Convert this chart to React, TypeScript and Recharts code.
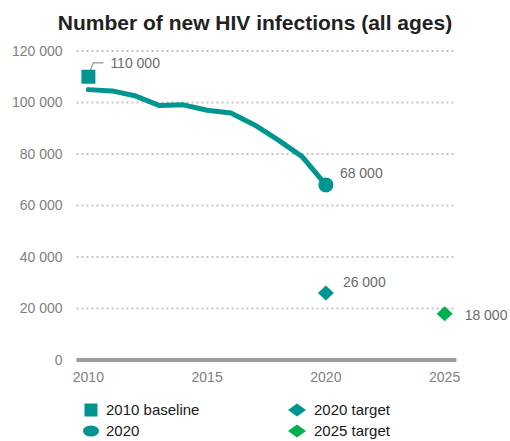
import React from "react";
import {
  ComposedChart,
  Line,
  Scatter,
  XAxis,
  YAxis,
  CartesianGrid,
} from "recharts";

const years = [2010, 2011, 2012, 2013, 2014, 2015, 2016, 2017, 2018, 2019, 2020];
const newInfections = [
  105000, 104500, 102500, 98800, 99100, 97000, 95900, 91300, 85400, 79000, 68000,
];

const markerNames = ["2010 baseline", "2020", "2020 target", "2025 target"];
const markerYears = [2010, 2020, 2020, 2025];
const markerValues = [110000, 68000, 26000, 18000];

const xTicks = [2010, 2015, 2020, 2025];
const yTicks = [0, 20000, 40000, 60000, 80000, 100000, 120000];

const TEAL = "#00968f";
const GREEN = "#00b050";
const FONT = "'Liberation Sans', Arial, sans-serif";

// marker look + where its value label sits
const markerStyle = [
  { shape: "square", color: TEAL, dx: 22, dy: -14, leader: true },
  { shape: "circle", color: TEAL, dx: 14, dy: -12, leader: false },
  { shape: "diamond", color: TEAL, dx: 17, dy: -11, leader: false },
  { shape: "diamond", color: GREEN, dx: 20, dy: 1, leader: false },
];

const fmt = (v: number) => String(v).replace(/\B(?=(\d{3})+(?!\d))/g, " ");

const lineData = years.map((year, i) => ({ year, value: newInfections[i] }));

function Marker({ shape, color, cx, cy }: any) {
  if (shape === "square") {
    return <rect x={cx - 7} y={cy - 7} width={14} height={14} fill={color} />;
  }
  if (shape === "circle") {
    return <circle cx={cx} cy={cy} r={7.5} fill={color} />;
  }
  return (
    <polygon
      points={`${cx},${cy - 7.5} ${cx + 8},${cy} ${cx},${cy + 7.5} ${cx - 8},${cy}`}
      fill={color}
    />
  );
}

function makeShape(i: number) {
  const st = markerStyle[i];
  return (props: any) => {
    const { cx, cy } = props;
    return (
      <g>
        {st.leader && (
          <polyline
            points={`${cx},${cy - 2} ${cx + 5},${cy - 14} ${cx + 15},${cy - 14}`}
            fill="none"
            stroke="#a6a6a6"
            strokeWidth={1.5}
          />
        )}
        <Marker shape={st.shape} color={st.color} cx={cx} cy={cy} />
        <text
          x={cx + st.dx}
          y={cy + st.dy}
          dominantBaseline="central"
          fontSize={14}
          fontFamily={FONT}
          fill="#6b6b6b"
        >
          {fmt(markerValues[i])}
        </text>
      </g>
    );
  };
}

const legendPos = [
  { x: 91, y: 410, tx: 106 },
  { x: 91, y: 431, tx: 106 },
  { x: 297, y: 410, tx: 314 },
  { x: 297, y: 431, tx: 314 },
];

function LegendIcon({ shape, color }: any) {
  return (
    <svg width={20} height={16} style={{ display: "block" }}>
      {shape === "square" && <rect x={3.5} y={1.5} width={13} height={13} fill={color} />}
      {shape === "circle" && <ellipse cx={10} cy={8} rx={8} ry={5.5} fill={color} />}
      {shape === "diamond" && (
        <polygon points="10,1.5 19,8 10,14.5 1,8" fill={color} />
      )}
    </svg>
  );
}

export default function App() {
  return (
    <div
      style={{
        position: "absolute",
        left: 0,
        top: 0,
        width: 510,
        height: 441,
        background: "#fff",
        fontFamily: FONT,
      }}
    >
      <div
        style={{
          position: "absolute",
          top: 9,
          left: 0,
          width: 510,
          textAlign: "center",
          fontSize: 21,
          fontWeight: "bold",
          lineHeight: "28px",
          color: "#222",
        }}
      >
        Number of new HIV infections (all ages)
      </div>

      <div style={{ position: "absolute", top: 0, left: 0 }}>
        <ComposedChart
          width={510}
          height={400}
          margin={{ top: 51, right: 53.5, bottom: 0, left: 0 }}
        >
          <CartesianGrid
            vertical={false}
            stroke="#c4c4c4"
            strokeWidth={2}
            strokeDasharray="2 3"
          />
          <XAxis
            dataKey="year"
            type="number"
            domain={[2009.5, 2025.5]}
            ticks={xTicks}
            height={40}
            tickSize={0}
            tickMargin={12}
            axisLine={{ stroke: "#9d9d9d", strokeWidth: 4 }}
            tick={{ fill: "#808080", fontSize: 14, fontFamily: FONT }}
          />
          <YAxis
            type="number"
            domain={[0, 120000]}
            ticks={yTicks}
            width={76.5}
            tickSize={0}
            tickMargin={14}
            axisLine={false}
            tickFormatter={fmt}
            tick={{ fill: "#808080", fontSize: 14, fontFamily: FONT }}
          />
          <Line
            data={lineData}
            dataKey="value"
            stroke={TEAL}
            strokeWidth={5}
            dot={false}
            strokeLinejoin="round"
            strokeLinecap="round"
            isAnimationActive={false}
          />
          {markerNames.map((name, i) => (
            <Scatter
              key={name}
              name={name}
              data={[{ year: markerYears[i], value: markerValues[i] }]}
              dataKey="value"
              shape={makeShape(i)}
              isAnimationActive={false}
            />
          ))}
        </ComposedChart>
      </div>

      {markerNames.map((name, i) => (
        <div
          key={name}
          style={{
            position: "absolute",
            left: legendPos[i].x - 10,
            top: legendPos[i].y - 10,
            height: 20,
            display: "flex",
            alignItems: "center",
          }}
        >
          <LegendIcon shape={markerStyle[i].shape} color={markerStyle[i].color} />
          <span
            style={{
              marginLeft: legendPos[i].tx - legendPos[i].x - 10,
              fontSize: 15,
              color: "#1a1a1a",
              lineHeight: "20px",
            }}
          >
            {name}
          </span>
        </div>
      ))}
    </div>
  );
}
